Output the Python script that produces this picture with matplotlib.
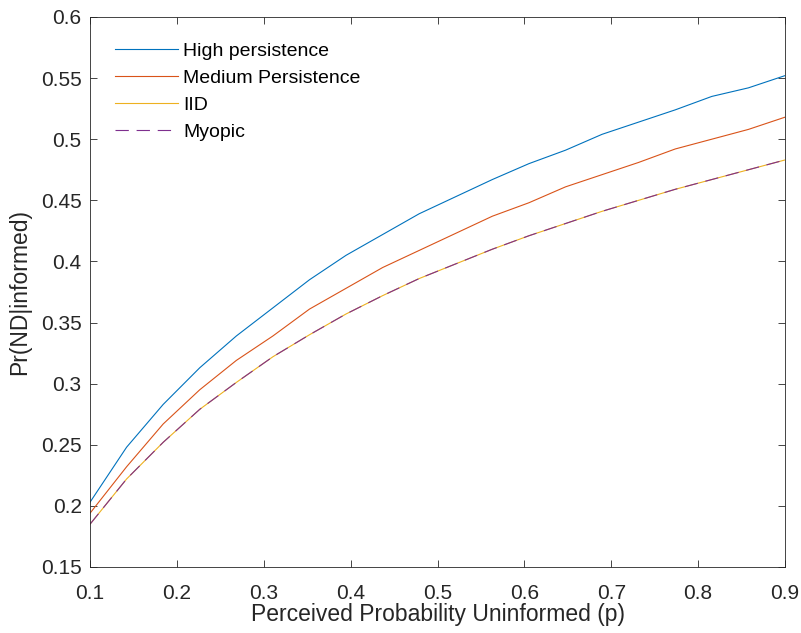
import matplotlib.pyplot as plt
import numpy as np

# Perceived probability uninformed (20 grid points)
p = np.linspace(0.1, 0.9, 20)

high_persistence = [0.203, 0.248, 0.283, 0.313, 0.339, 0.362, 0.385, 0.405, 0.422, 0.439,
                    0.453, 0.467, 0.480, 0.491, 0.504, 0.514, 0.524, 0.535, 0.542, 0.552]
medium_persistence = [0.194, 0.232, 0.267, 0.295, 0.319, 0.339, 0.361, 0.378, 0.395, 0.409,
                      0.423, 0.437, 0.448, 0.461, 0.471, 0.481, 0.492, 0.500, 0.508, 0.518]
iid = [0.185, 0.222, 0.252, 0.279, 0.301, 0.322, 0.340, 0.357, 0.372, 0.386,
       0.398, 0.410, 0.421, 0.431, 0.441, 0.450, 0.459, 0.467, 0.475, 0.483]
myopic = list(iid)

plt.rcParams['font.family'] = ['Liberation Sans', 'DejaVu Sans']

fig = plt.figure(figsize=(8.01, 6.33), dpi=100)
ax = fig.add_axes([0.1124, 0.1043, 0.8676, 0.8689])

ax.plot(p, high_persistence, color='#0072BD', lw=0.8, label='High persistence')
ax.plot(p, medium_persistence, color='#D95319', lw=0.8, label='Medium Persistence')
ax.plot(p, iid, color='#EDB120', lw=0.8, label='IID')
ax.plot(p, myopic, color='#7E2F8E', lw=0.8, ls=(0, (12, 7)), label='Myopic')

ax.set_xlim(0.1, 0.9)
ax.set_ylim(0.15, 0.6)
ax.set_xticks(np.arange(0.1, 0.91, 0.1))
ax.set_yticks(np.arange(0.15, 0.61, 0.05))
ax.set_xticklabels(['0.1', '0.2', '0.3', '0.4', '0.5', '0.6', '0.7', '0.8', '0.9'])
ax.set_yticklabels(['0.15', '0.2', '0.25', '0.3', '0.35', '0.4', '0.45', '0.5', '0.55', '0.6'])

ax.tick_params(direction='in', top=True, right=True, labelsize=15, colors='#262626',
               length=5, width=0.6, pad=6)
ax.tick_params(axis='x', pad=12)
for s in ax.spines.values():
    s.set_color('#262626')
    s.set_linewidth(0.6)

ax.set_xlabel('Perceived Probability Uninformed (p)', fontsize=16.5, color='#262626', labelpad=0)
ax.set_ylabel('Pr(ND|informed)', fontsize=16.5, color='#262626', labelpad=7)

ax.legend(loc='upper left', frameon=False, fontsize=14, handlelength=3.2,
          handletextpad=0.3, labelspacing=0.48, borderaxespad=0.9)

plt.savefig('out.png', dpi=100)
